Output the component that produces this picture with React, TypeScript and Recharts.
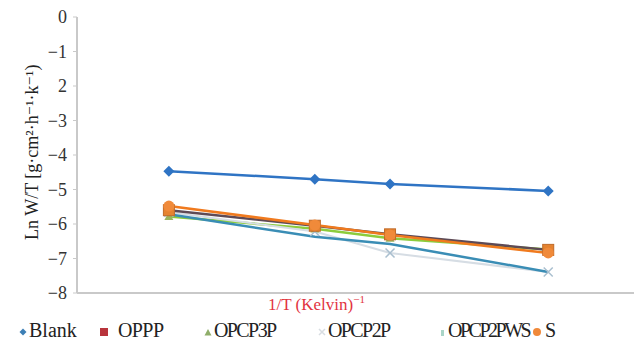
import React from 'react';
import { LineChart, Line, XAxis, YAxis, Legend, Label } from 'recharts';

// 1/T positions of the four measurements (relative units, axis has no tick labels)
const invT = [16.5, 42.7, 56.2, 84.6];

const blank = [-4.47, -4.7, -4.84, -5.04];
const oppp = [-5.6, -6.05, -6.3, -6.75];
const opcp3p = [-5.78, -6.14, -6.41, -6.74];
const opcp2p = [-5.66, -6.22, -6.84, -7.39];
const opcp2pws = [-5.72, -6.37, -6.58, -7.39];
const sSeries = [-5.48, -6.03, -6.32, -6.84];

const yTicks = [0, -1, -2, -3, -4, -5, -6, -7, -8];
// the source figure prints "2" where -2 belongs
const yTickText = ['0', '−1', '2', '−3', '−4', '−5', '−6', '−7', '−8'];

const legendNames = ['Blank', 'OPPP', 'OPCP3P', 'OPCP2P', 'OPCP2PWS', 'S'];

const data = invT.map((x, i) => ({
  x,
  Blank: blank[i],
  OPPP: oppp[i],
  OPCP3P: opcp3p[i],
  OPCP2P: opcp2p[i],
  OPCP2PWS: opcp2pws[i],
  S: sSeries[i],
}));

const FONT = 'Liberation Serif, DejaVu Serif, serif';

const Diamond = (props: any) => {
  const { cx, cy } = props;
  if (cx == null || cy == null) return null;
  const r = 5.5;
  return <path d={`M${cx},${cy - r}L${cx + r},${cy}L${cx},${cy + r}L${cx - r},${cy}Z`} fill="#2f74c4" />;
};

const Square = (props: any) => {
  const { cx, cy } = props;
  if (cx == null || cy == null) return null;
  return <rect x={cx - 5.5} y={cy - 5.5} width={11} height={11} fill="#e58330" stroke="#c06a28" strokeWidth={1} />;
};

const Triangle = (props: any) => {
  const { cx, cy } = props;
  if (cx == null || cy == null) return null;
  const r = 4.5;
  return <path d={`M${cx},${cy - r}L${cx + r},${cy + r * 0.8}L${cx - r},${cy + r * 0.8}Z`} fill="#9bb35c" />;
};

const Cross = (props: any) => {
  const { cx, cy } = props;
  if (cx == null || cy == null) return null;
  const r = 4.5;
  return (
    <path
      d={`M${cx - r},${cy - r}L${cx + r},${cy + r}M${cx - r},${cy + r}L${cx + r},${cy - r}`}
      stroke="#a9bfcf"
      strokeWidth={1.5}
    />
  );
};

const Circle = (props: any) => {
  const { cx, cy } = props;
  if (cx == null || cy == null) return null;
  return <circle cx={cx} cy={cy} r={5.5} fill="#f08a3a" />;
};

// legend glyphs, drawn as they look in the source figure
const legendGlyphs = [
  <svg width="8" height="8"><path d="M4,0.5L7.5,4L4,7.5L0.5,4Z" fill="#3d7fb5" /></svg>,
  <svg width="8" height="8"><rect x="0" y="0" width="8" height="8" fill="#b8343c" /></svg>,
  <svg width="8" height="8"><path d="M4,1L7.5,7.5L0.5,7.5Z" fill="#8fae6a" /></svg>,
  <svg width="8" height="8"><path d="M1,1L7,7M1,7L7,1" stroke="#d8dde2" strokeWidth="1.5" /></svg>,
  <svg width="8" height="8"><rect x="3" y="2" width="3" height="6" fill="#a9d5c8" /></svg>,
  <svg width="8" height="8"><circle cx="4" cy="4" r="4" fill="#f0893a" /></svg>,
];
const legendLeft = [19, 100, 204, 318, 438, 533];
const legendSpacing = [0, -0.6, -1.6, -1.6, -2.5, 0];

const renderLegend = () => (
  <div style={{ position: 'relative', height: 30, fontFamily: FONT, fontSize: 20, color: '#222' }}>
    {legendNames.map((name, i) => (
      <div
        key={name}
        style={{ position: 'absolute', left: legendLeft[i], top: 6, display: 'flex', alignItems: 'center', whiteSpace: 'nowrap' }}
      >
        <span
          style={{
            display: 'inline-block',
            width: 8,
            height: 8,
            marginRight: i === 1 ? 10 : i === 5 ? 4 : 2,
            marginTop: 3,
            lineHeight: 0,
          }}
        >
          {legendGlyphs[i]}
        </span>
        <span style={{ fontFamily: FONT, letterSpacing: legendSpacing[i] }}>{name}</span>
      </div>
    ))}
  </div>
);

const XTitle = (props: any) => {
  const { viewBox } = props;
  const x = viewBox.x + viewBox.width * 0.43;
  return (
    <text x={x} y={viewBox.y + 17} textAnchor="middle" fill="#e2343f" fontFamily={FONT} fontSize={17}>
      1/T (Kelvin)
      <tspan dy={-7} fontSize={11}>−1</tspan>
    </text>
  );
};

const YTitle = (props: any) => {
  const { viewBox } = props;
  const cx = 32;
  const cy = viewBox.y + viewBox.height * 0.49;
  return (
    <text
      x={cx}
      y={cy}
      transform={`rotate(-90, ${cx}, ${cy})`}
      textAnchor="middle"
      dominantBaseline="central"
      fill="#222"
      fontFamily={FONT}
      fontSize={18}
    >
      Ln W/T [g·cm²·h⁻¹·k⁻¹)
    </text>
  );
};

const YTick = (props: any) => {
  const { x, y, payload } = props;
  return (
    <text x={x} y={y} dy={6} textAnchor="end" fill="#333" fontFamily={FONT} fontSize={18}>
      {yTickText[yTicks.indexOf(payload.value)]}
    </text>
  );
};

export default function App() {
  return (
    <div style={{ position: 'absolute', left: 0, top: 0, width: 638, height: 344, background: '#fff', fontFamily: FONT }}>
      <LineChart width={638} height={344} data={data} margin={{ top: 17, right: 4, left: 0, bottom: 1 }}>
        <XAxis
          dataKey="x"
          type="number"
          domain={[0, 100]}
          tick={false}
          tickLine={false}
          axisLine={{ stroke: '#c9c9c9', strokeWidth: 2 }}
          height={20}
        >
          <Label content={<XTitle />} />
        </XAxis>
        <YAxis
          type="number"
          domain={[-8, 0]}
          ticks={yTicks}
          width={77}
          tick={<YTick />}
          tickSize={4}
          tickMargin={6}
          tickLine={{ stroke: '#c9c9c9' }}
          axisLine={{ stroke: '#c9c9c9', strokeWidth: 2 }}
        >
          <Label content={<YTitle />} />
        </YAxis>
        <Legend verticalAlign="bottom" height={30} content={renderLegend} />
        <Line dataKey="Blank" stroke="#2f74c4" strokeWidth={2.5} dot={<Diamond />} isAnimationActive={false} />
        <Line dataKey="OPCP3P" stroke="#8ccc3c" strokeWidth={2.5} dot={<Triangle />} isAnimationActive={false} />
        <Line dataKey="OPCP2P" stroke="#d6dde4" strokeWidth={2} dot={<Cross />} isAnimationActive={false} />
        <Line dataKey="OPCP2PWS" stroke="#3a8db5" strokeWidth={2.5} dot={false} isAnimationActive={false} />
        <Line dataKey="OPPP" stroke="#5e4a55" strokeWidth={2.5} dot={<Square />} isAnimationActive={false} />
        <Line dataKey="S" stroke="#f07a1e" strokeWidth={2.5} dot={<Circle />} isAnimationActive={false} />
      </LineChart>
    </div>
  );
}
